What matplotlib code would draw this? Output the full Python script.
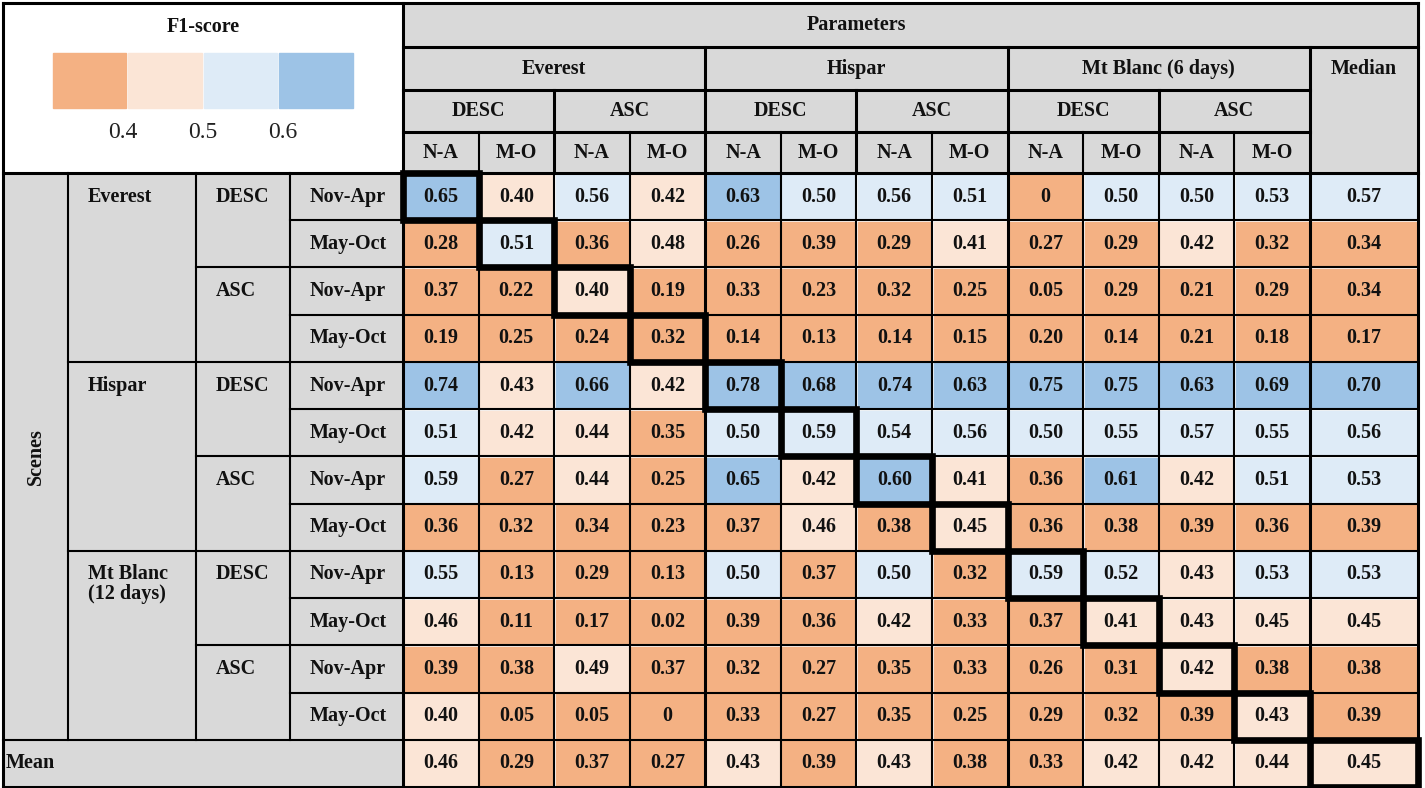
"""F1-score table: scenes (rows) vs. parameter sets (columns), with diagonal highlight"""
import matplotlib.pyplot as plt
from matplotlib.patches import Rectangle

plt.rcParams['font.family'] = ['Liberation Serif', 'DejaVu Serif']

ORANGE = '#F4B183'
LIGHT_ORANGE = '#FBE5D6'
LIGHT_BLUE = '#DEEBF7'
BLUE = '#9DC3E6'
GRAY = '#D9D9D9'

# ---- data ----
scenes = ['Everest', 'Hispar', 'Mt Blanc\n(12 days)']
param_scenes = ['Everest', 'Hispar', 'Mt Blanc (6 days)']
orbits = ['DESC', 'ASC']
seasons = ['Nov-Apr', 'May-Oct']
season_short = ['N-A', 'M-O']
legend_ticks = ['0.4', '0.5', '0.6']

scores = [
    [0.65, 0.40, 0.56, 0.42, 0.63, 0.50, 0.56, 0.51, 0.00, 0.50, 0.50, 0.53],
    [0.28, 0.51, 0.36, 0.48, 0.26, 0.39, 0.29, 0.41, 0.27, 0.29, 0.42, 0.32],
    [0.37, 0.22, 0.40, 0.19, 0.33, 0.23, 0.32, 0.25, 0.05, 0.29, 0.21, 0.29],
    [0.19, 0.25, 0.24, 0.32, 0.14, 0.13, 0.14, 0.15, 0.20, 0.14, 0.21, 0.18],
    [0.74, 0.43, 0.66, 0.42, 0.78, 0.68, 0.74, 0.63, 0.75, 0.75, 0.63, 0.69],
    [0.51, 0.42, 0.44, 0.35, 0.50, 0.59, 0.54, 0.56, 0.50, 0.55, 0.57, 0.55],
    [0.59, 0.27, 0.44, 0.25, 0.65, 0.42, 0.60, 0.41, 0.36, 0.61, 0.42, 0.51],
    [0.36, 0.32, 0.34, 0.23, 0.37, 0.46, 0.38, 0.45, 0.36, 0.38, 0.39, 0.36],
    [0.55, 0.13, 0.29, 0.13, 0.50, 0.37, 0.50, 0.32, 0.59, 0.52, 0.43, 0.53],
    [0.46, 0.11, 0.17, 0.02, 0.39, 0.36, 0.42, 0.33, 0.37, 0.41, 0.43, 0.45],
    [0.39, 0.38, 0.49, 0.37, 0.32, 0.27, 0.35, 0.33, 0.26, 0.31, 0.42, 0.38],
    [0.40, 0.05, 0.05, 0.00, 0.33, 0.27, 0.35, 0.25, 0.29, 0.32, 0.39, 0.43],
]
medians = [0.57, 0.34, 0.34, 0.17, 0.70, 0.56, 0.53, 0.39, 0.53, 0.45, 0.38, 0.39]
means = [0.46, 0.29, 0.37, 0.27, 0.43, 0.39, 0.43, 0.38, 0.33, 0.42, 0.42, 0.44]
mean_of_medians = 0.45


def cell_color(v):
    if v < 0.4:
        return ORANGE
    if v < 0.5:
        return LIGHT_ORANGE
    if v < 0.6:
        return LIGHT_BLUE
    return BLUE


def fmt(v):
    return '0' if v == 0 else f'{v:.2f}'


# ---- layout (pixel grid) ----
W, H = 1425, 788
X0, X_SC, X_NAME, X_ORB, X_DATA = 3, 68, 196, 290, 403
COL_W = (1310 - X_DATA) / 12
X_MED, X_END = 1310, 1418
Y0, Y_HDR = 3, 173
HDR_Y = [3, 47, 90, 132, 173]
ROW_H = (787 - Y_HDR) / 13
n_rows = len(scores)
Y_MEAN = Y_HDR + n_rows * ROW_H
Y_END = Y_MEAN + ROW_H

fig = plt.figure(figsize=(W / 100, H / 100), dpi=100)
ax = fig.add_axes([0, 0, 1, 1])
ax.set_xlim(0, W)
ax.set_ylim(H, 0)
ax.axis('off')

BOLD = dict(fontsize=14.5, fontweight='bold', color='#111111')
THIN, MID, THICK = 1.5, 2.2, 4.8


def col_x(j):
    return X_DATA + j * COL_W


def row_y(i):
    return Y_HDR + i * ROW_H


def hline(y, x1, x2, lw=THIN):
    ax.plot([x1, x2], [y, y], color='black', lw=lw, solid_capstyle='projecting', zorder=3)


def vline(x, y1, y2, lw=THIN):
    ax.plot([x, x], [y1, y2], color='black', lw=lw, solid_capstyle='projecting', zorder=3)


# gray backgrounds
ax.add_patch(Rectangle((X_DATA, Y0), X_END - X_DATA, Y_HDR - Y0, color=GRAY, zorder=1))
ax.add_patch(Rectangle((X0, Y_HDR), X_DATA - X0, Y_END - Y_HDR, color=GRAY, zorder=1))

# ---- legend box ----
ax.text((X0 + X_DATA) / 2, 27, 'F1-score', ha='center', va='center', **BOLD)
sw_x, sw_w, sw_y, sw_h = 52, 75.5, 53, 55
for k, c in enumerate([ORANGE, LIGHT_ORANGE, LIGHT_BLUE, BLUE]):
    ax.add_patch(Rectangle((sw_x + k * sw_w + 1, sw_y), sw_w - 2, sw_h, color=c, zorder=1))
for k, t in enumerate(legend_ticks):
    ax.text(sw_x + (k + 1) * sw_w - 5 + k * 4.5, 132, t, ha='center', va='center',
            fontsize=17, color='#222222')

# ---- column headers ----
ax.text((X_DATA + X_MED) / 2, (HDR_Y[0] + HDR_Y[1]) / 2, 'Parameters', ha='center', va='center', **BOLD)
for s, name in enumerate(param_scenes):
    xa = col_x(4 * s)
    ax.text(xa + 2 * COL_W, (HDR_Y[1] + HDR_Y[2]) / 2, name, ha='center', va='center', **BOLD)
    for o, orb in enumerate(orbits):
        xo = col_x(4 * s + 2 * o)
        ax.text(xo + COL_W, (HDR_Y[2] + HDR_Y[3]) / 2, orb, ha='center', va='center', **BOLD)
        for m, ss in enumerate(season_short):
            xs = col_x(4 * s + 2 * o + m)
            ax.text(xs + COL_W / 2, (HDR_Y[3] + HDR_Y[4]) / 2, ss, ha='center', va='center', **BOLD)
ax.text((X_MED + X_END) / 2, (HDR_Y[1] + HDR_Y[2]) / 2, 'Median', ha='center', va='center', **BOLD)

# ---- row headers ----
ax.text((X0 + X_SC) / 2, (Y_HDR + Y_MEAN) / 2, 'Scenes', rotation=90, ha='center', va='center', **BOLD)
for s, name in enumerate(scenes):
    yc = row_y(4 * s) + ROW_H / 2
    for li, line in enumerate(name.split('\n')):
        ax.text(X_SC + 20, yc + li * 20, line, ha='left', va='center', **BOLD)
    for o, orb in enumerate(orbits):
        ax.text(X_NAME + 20, row_y(4 * s + 2 * o) + ROW_H / 2, orb, ha='left', va='center', **BOLD)
        for m, ss in enumerate(seasons):
            ax.text(X_ORB + 20, row_y(4 * s + 2 * o + m) + ROW_H / 2, ss, ha='left', va='center', **BOLD)
ax.text(X0 + 3, Y_MEAN + ROW_H / 2, 'Mean', ha='left', va='center', **BOLD)

# ---- data cells ----
def draw_cell(x, y, w, v):
    ax.add_patch(Rectangle((x + 1.5, y + 1.5), w - 3, ROW_H - 3, color=cell_color(v), zorder=1))
    ax.text(x + w / 2, y + ROW_H / 2, fmt(v), ha='center', va='center', zorder=4, **BOLD)


for i, row in enumerate(scores):
    for j, v in enumerate(row):
        draw_cell(col_x(j), row_y(i), COL_W, v)
    draw_cell(X_MED, row_y(i), X_END - X_MED, medians[i])
for j, v in enumerate(means):
    draw_cell(col_x(j), Y_MEAN, COL_W, v)
draw_cell(X_MED, Y_MEAN, X_END - X_MED, mean_of_medians)

# ---- grid lines ----
# header
hline(HDR_Y[0], X0, X_END, MID)
hline(HDR_Y[1], X_DATA, X_END, MID)
hline(HDR_Y[2], X_DATA, X_MED, MID)
hline(HDR_Y[3], X_DATA, X_MED, MID)
for j in range(1, 12):
    if j % 4 == 0:
        vline(col_x(j), HDR_Y[1], Y_END, MID)
    elif j % 2 == 0:
        vline(col_x(j), HDR_Y[2], HDR_Y[4], MID)
        vline(col_x(j), Y_HDR, Y_END)
    else:
        vline(col_x(j), HDR_Y[3], Y_END)
vline(X_MED, HDR_Y[1], Y_END, MID)
vline(X_END, Y0, Y_END, MID)
vline(X_DATA, Y0, Y_END, MID)
vline(X0, Y0, Y_END, MID)
hline(Y_HDR, X0, X_END, MID)
hline(Y_END, X0, X_END, MID)
hline(Y_MEAN, X0, X_END)

# data row separators
for i in range(1, n_rows):
    hline(row_y(i), X_ORB, X_END)
    if i % 2 == 0:
        hline(row_y(i), X_NAME, X_ORB)
    if i % 4 == 0:
        hline(row_y(i), X_SC, X_NAME)
for x in (X_SC, X_NAME, X_ORB):
    vline(x, Y_HDR, Y_MEAN)

# diagonal highlight boxes
for i in range(n_rows):
    ax.add_patch(Rectangle((col_x(i), row_y(i)), COL_W, ROW_H, fill=False,
                           edgecolor='black', lw=THICK, zorder=5))
ax.add_patch(Rectangle((X_MED, Y_MEAN), X_END - X_MED, ROW_H, fill=False,
                       edgecolor='black', lw=THICK, zorder=5))

plt.savefig('out.png', dpi=100)
plt.close()
